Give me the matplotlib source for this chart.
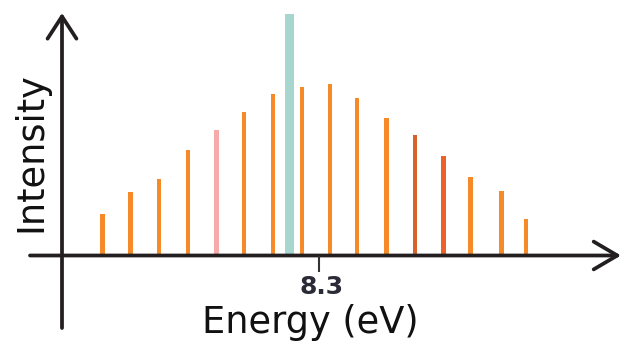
import matplotlib
matplotlib.use("Agg")
import matplotlib.pyplot as plt

# ---- data ----
energies = [7.541, 7.639, 7.739, 7.840, 7.941, 8.037, 8.138, 8.197, 8.241,
            8.338, 8.433, 8.536, 8.637, 8.736, 8.832, 8.940, 9.027]
intensities = [0.415, 0.635, 0.765, 1.06, 1.255, 1.44, 1.615, 2.415, 1.69,
               1.72, 1.58, 1.38, 1.205, 1.00, 0.79, 0.65, 0.365]
bar_colors = ['#F68A28', '#F68A28', '#F68A28', '#F68A28', '#F7AAAA', '#F68A28',
              '#F68A28', '#A6D6CE', '#F68A28', '#F68A28', '#F68A28', '#F68A28',
              '#D8612E', '#EE6128', '#F68A28', '#F68A28', '#F68A28']
bar_widths = [0.016] * 7 + [0.033] + [0.016] * 9
tick_values = [8.3]
tick_labels = ['8.3']

W, H = 625, 344
fig = plt.figure(figsize=(W / 100, H / 100), dpi=100)
ax = fig.add_axes([0, 0, 1, 1])
ppe = 285.0  # pixels per eV
x0 = 8.3 - 319 / ppe
x1 = 8.3 + (W - 319) / ppe
y0 = -88.5 / 100
y1 = (H - 88.5) / 100
ax.set_xlim(x0, x1)
ax.set_ylim(y0, y1)
ax.axis('off')

def px(x):
    return x0 + x / ppe

def py(y):
    return (H - 88.5 - y) / 100

ax.bar(energies, intensities, width=bar_widths, color=bar_colors, zorder=2)

axc = '#231F20'
# x axis
ax.annotate('', xy=(px(621), 0), xytext=(px(30), 0),
            arrowprops=dict(arrowstyle='->,head_length=0.85,head_width=0.5',
                            lw=2.7, color=axc, shrinkA=0, shrinkB=0,
                            mutation_scale=20), zorder=3)
# y axis
yaxis_x = px(62)
ax.annotate('', xy=(yaxis_x, py(13)), xytext=(yaxis_x, py(328)),
            arrowprops=dict(arrowstyle='->,head_length=0.8,head_width=0.52',
                            lw=2.7, color=axc, shrinkA=0, shrinkB=0,
                            mutation_scale=20), zorder=3)

# tick
for tv, tl in zip(tick_values, tick_labels):
    ax.plot([tv, tv], [0, py(272)], color='#333333', lw=1.5, zorder=3,
            solid_capstyle='butt')
    ax.text(tv + 3 / ppe, py(287), tl, ha='center', va='center',
            fontsize=18, fontweight='semibold', color='#2B2B38',
            family='DejaVu Sans')

ax.text(310.5 / W, 1 - 333 / H, 'Energy (eV)', transform=ax.transAxes,
        ha='center', va='baseline', fontsize=26.5, color='#111111',
        family='DejaVu Sans')
ax.text(31 / W, 1 - 152.5 / H, 'Intensity', transform=ax.transAxes,
        ha='center', va='center', rotation=90, fontsize=26.5,
        color='#111111', family='DejaVu Sans')

fig.savefig('out.png', dpi=100)
